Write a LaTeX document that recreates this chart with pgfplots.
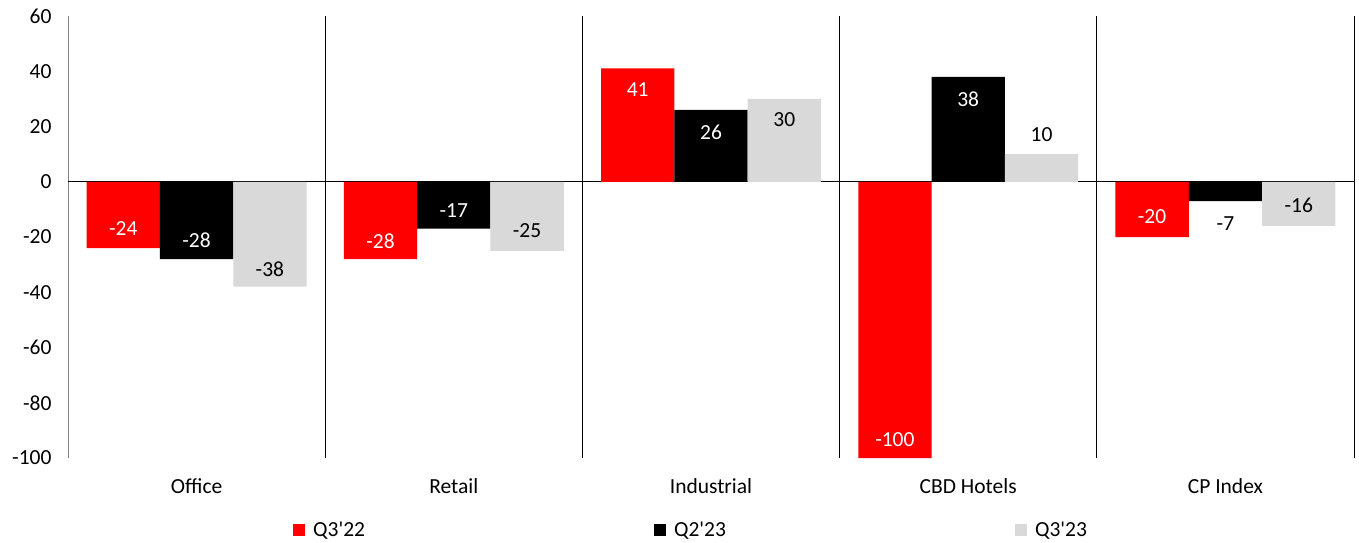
\documentclass[border=0pt]{standalone}
\usepackage{fontspec}
\setmainfont{Carlito}
\usepackage{pgfplots}
\usepackage{pgfplotstable}
\pgfplotsset{compat=1.18}
\definecolor{cred}{HTML}{FF0000}
\definecolor{cgray}{HTML}{D9D9D9}
\newcommand{\fs}{\fontsize{21.5}{25}\selectfont}
\pgfplotsset{
  sq legend/.style={legend image code/.code={\fill[##1] (0pt,-6pt) rectangle (12pt,6pt); \path (18pt,0pt);}},
  barlab/.style={only marks, mark=none, forget plot, point meta=explicit symbolic,
    nodes near coords, nodes near coords align=center,
    nodes near coords style={anchor=center, text=#1, font=\fs}},
}
% bar values
\pgfplotstableread{
x y
0 -24
1 -28
2 41
3 -100
4 -20
}\tA
\pgfplotstableread{
x y
0 -28
1 -17
2 26
3 38
4 -7
}\tB
\pgfplotstableread{
x y
0 -38
1 -25
2 30
3 10
4 -16
}\tC
% label positions (x, y in data units) and texts
\pgfplotstableread{
x y lab
-0.285 -16.8 -24
0.715 -21.4 -28
1.715 33.4 41
2.715 -93.5 -100
3.715 -12.6 -20
0 -21.1 -28
1 -10.5 -17
2 17.9 26
3 29.8 38
}\tLw
\pgfplotstableread{
x y lab
4 -15.1 -7
0.285 -31.6 -38
1.285 -17.8 -25
2.285 22.6 30
3.285 16.9 10
4.285 -8.4 -16
}\tLb
\begin{document}
\begin{tikzpicture}
\begin{axis}[
  scale only axis, width=1286pt, height=442pt,
  xmin=-0.5, xmax=4.5, ymin=-100, ymax=60,
  xtick={0,...,4}, xticklabels={Office,Retail,Industrial,CBD Hotels,CP Index},
  ytick={-100,-80,...,60},
  axis y line*=left, axis x line*=bottom,
  x axis line style={draw=none},
  y axis line style={draw=gray, line width=1pt, -},
  major tick length=0pt,
  tick label style={font=\fs, text=black},
  /pgf/number format/assume math mode=true,
  yticklabel style={xshift=-13pt},
  xticklabel style={yshift=-17pt},
  extra x ticks={0.5,1.5,2.5,3.5,4.5}, extra x tick labels={},
  extra x tick style={grid=major, major grid style={black, line width=1pt}},
  extra y ticks={0}, extra y tick labels={},
  extra y tick style={grid=major, major grid style={black, line width=1pt}},
  legend columns=3,
  legend style={draw=none, at={(0.4845,-0.163)}, anchor=center, font=\fs,
    /tikz/every even column/.append style={column sep=287pt}},
]
\addplot[ybar, bar width=0.285, bar shift=-0.285, draw=none, fill=cred, sq legend] table[x=x, y=y] {\tA};
\addplot[ybar, bar width=0.285, bar shift=0, draw=none, fill=black, sq legend] table[x=x, y=y] {\tB};
\addplot[ybar, bar width=0.285, bar shift=0.285, draw=none, fill=cgray, sq legend] table[x=x, y=y] {\tC};
\addplot[barlab=white] table[x=x, y=y, meta=lab] {\tLw};
\addplot[barlab=black] table[x=x, y=y, meta=lab] {\tLb};
\legend{Q3\textquotesingle22, Q2\textquotesingle23, Q3\textquotesingle23}
\end{axis}
\pgfresetboundingbox
\path ([shift={(-68pt,-84pt)}]current axis.south west) rectangle ([shift={(5pt,16pt)}]current axis.north east);
\end{tikzpicture}
\end{document}
